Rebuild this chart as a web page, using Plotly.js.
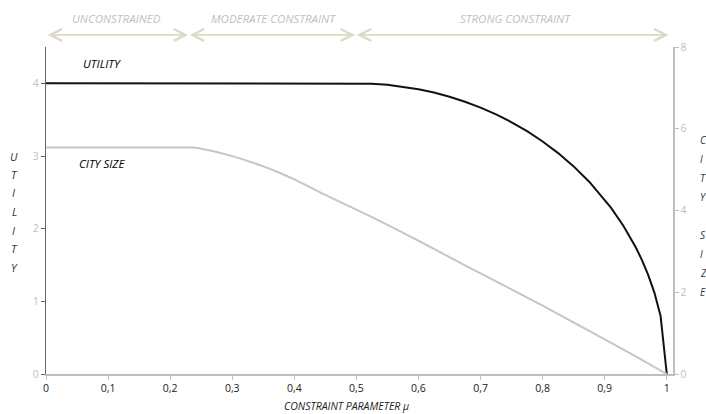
<!DOCTYPE html>
<html>
<head>
<meta charset="utf-8">
<script src="https://cdn.plot.ly/plotly-3.0.1.min.js"></script>
<style>html,body{margin:0;padding:0;background:#fff}#chart{width:706px;height:414px}</style>
</head>
<body>
<div id="chart"></div>
<script>
// ---- data ----
const utilityX = [0, 0.1, 0.2, 0.3, 0.4, 0.5, 0.525, 0.55, 0.575, 0.6, 0.625, 0.65, 0.675, 0.7, 0.725, 0.75, 0.775, 0.8, 0.825, 0.85, 0.875, 0.9, 0.91, 0.93, 0.95, 0.96, 0.97, 0.98, 0.99, 1.0];
const utilityY = [4, 4, 4, 4, 4, 4, 3.995, 3.98, 3.955, 3.92, 3.873, 3.816, 3.747, 3.666, 3.572, 3.464, 3.341, 3.2, 3.04, 2.857, 2.646, 2.4, 2.289, 2.041, 1.744, 1.568, 1.365, 1.12, 0.8, 0];
const citySizeX = [0, 0.1, 0.2, 0.237, 0.25, 0.275, 0.3, 0.325, 0.35, 0.375, 0.4, 0.45, 0.5, 0.55, 0.6, 0.65, 0.7, 0.75, 0.8, 0.85, 0.9, 0.95, 1.0];
const citySizeY = [5.54, 5.54, 5.54, 5.54, 5.51, 5.43, 5.33, 5.21, 5.08, 4.93, 4.76, 4.38, 4.02, 3.65, 3.26, 2.86, 2.46, 2.07, 1.67, 1.26, 0.85, 0.43, 0];
const xTickVals = [0, 0.1, 0.2, 0.3, 0.4, 0.5, 0.6, 0.7, 0.8, 0.9, 1];
const xTickText = ['0', '0,1', '0,2', '0,3', '0,4', '0,5', '0,6', '0,7', '0,8', '0,9', '1'];
const regimeNames = ['UNCONSTRAINED', 'MODERATE CONSTRAINT', 'STRONG CONSTRAINT'];
const regimeBounds = [0, 0.229, 0.498, 1.003];
const leftTitle = 'UTILITY';
const rightTitle = 'CITY SIZE';

const FONT = 'Open Sans, Noto Sans, sans-serif';
const LIGHT = '#bfbfbf';
const BEIGE = '#ddd9c3';

const traces = [
  {x: utilityX, y: utilityY, type: 'scatter', mode: 'lines', name: 'Utility',
   line: {color: '#111111', width: 2}, yaxis: 'y'},
  {x: citySizeX, y: citySizeY, type: 'scatter', mode: 'lines', name: 'City size',
   line: {color: '#c6c6c6', width: 2, shape: 'spline', smoothing: 0.8}, yaxis: 'y2'}
];

const annotations = [];
// regime arrows and labels
for (let i = 0; i < regimeNames.length; i++) {
  const a = regimeBounds[i], b = regimeBounds[i + 1];
  annotations.push({xref: 'x', yref: 'paper', x: b, y: 1.037, axref: 'x', ax: a, ayref: 'pixel', ay: 0,
    text: '', showarrow: true, arrowside: 'end+start', arrowhead: 5, arrowsize: 1.3,
    arrowwidth: 1.8, arrowcolor: BEIGE, standoff: 0, startstandoff: 0});
}
const labelCenters = [0.114, 0.367, 0.756];
regimeNames.forEach((t, i) => annotations.push({xref: 'x', yref: 'paper', x: labelCenters[i], y: 1.086,
  text: '<i>' + t + '</i>', showarrow: false, xanchor: 'center', yanchor: 'middle',
  font: {family: FONT, size: 11.5, color: LIGHT}}));
// series labels
annotations.push({xref: 'x', yref: 'y', x: 0.057, y: 4.27, text: '<i>UTILITY</i>', showarrow: false,
  xanchor: 'left', yanchor: 'middle', font: {family: FONT, size: 11.5, color: '#000'}});
annotations.push({xref: 'x', yref: 'y', x: 0.05, y: 2.9, text: '<i>CITY SIZE</i>', showarrow: false,
  xanchor: 'left', yanchor: 'middle', font: {family: FONT, size: 11.5, color: '#000'}});
// x-axis title
annotations.push({xref: 'paper', yref: 'paper', x: 0.48, y: -0.098, text: '<i>CONSTRAINT PARAMETER µ</i>',
  showarrow: false, xanchor: 'center', yanchor: 'middle', font: {family: FONT, size: 10.5, color: '#222'}});
// stacked-letter axis titles
const plotTop = 47, plotH = 327;
function pyToPaper(py) { return (plotTop + plotH - py) / plotH; }
leftTitle.split('').forEach((ch, i) => annotations.push({xref: 'paper', yref: 'paper',
  x: (14 - 46) / 627, y: pyToPaper(156 + i * 18.5), text: '<i>' + ch + '</i>', showarrow: false,
  xanchor: 'center', yanchor: 'middle', font: {family: FONT, size: 11, color: '#333'}}));
rightTitle.split('').forEach((ch, i) => { if (ch !== ' ') annotations.push({xref: 'paper', yref: 'paper',
  x: (698 - 46) / 627, y: pyToPaper(140 + i * 19), text: '<i>' + ch + '</i>', showarrow: false,
  xanchor: 'left', yanchor: 'middle', font: {family: FONT, size: 10, color: '#333'}}); });

const layout = {
  width: 706, height: 414,
  margin: {l: 46, r: 33, t: 47, b: 40, pad: 0},
  paper_bgcolor: '#fff', plot_bgcolor: '#fff',
  showlegend: false,
  separators: ', ',
  font: {family: FONT, size: 10, color: '#333'},
  xaxis: {range: [0, 1.01], tickvals: xTickVals, ticktext: xTickText, showgrid: false, zeroline: false,
    showline: true, linecolor: LIGHT, linewidth: 1.5, ticks: 'outside', ticklen: 4, tickcolor: LIGHT,
    tickfont: {family: FONT, size: 10.5, color: '#222'}},
  yaxis: {range: [0, 4.5], tickvals: [0, 1, 2, 3, 4], showgrid: false, zeroline: false,
    showline: true, linecolor: '#666', linewidth: 1.2, ticks: 'outside', ticklen: 4, tickcolor: '#666',
    tickfont: {family: FONT, size: 10.5, color: LIGHT}},
  yaxis2: {range: [0, 8], tickvals: [0, 2, 4, 6, 8], overlaying: 'y', side: 'right', showgrid: false,
    zeroline: false, showline: true, linecolor: LIGHT, linewidth: 1.5, ticks: 'outside', ticklen: 4,
    tickcolor: LIGHT, tickfont: {family: FONT, size: 10.5, color: LIGHT}},
  annotations: annotations
};

Plotly.newPlot('chart', traces, layout, {displayModeBar: false, staticPlot: true});
</script>
</body>
</html>
